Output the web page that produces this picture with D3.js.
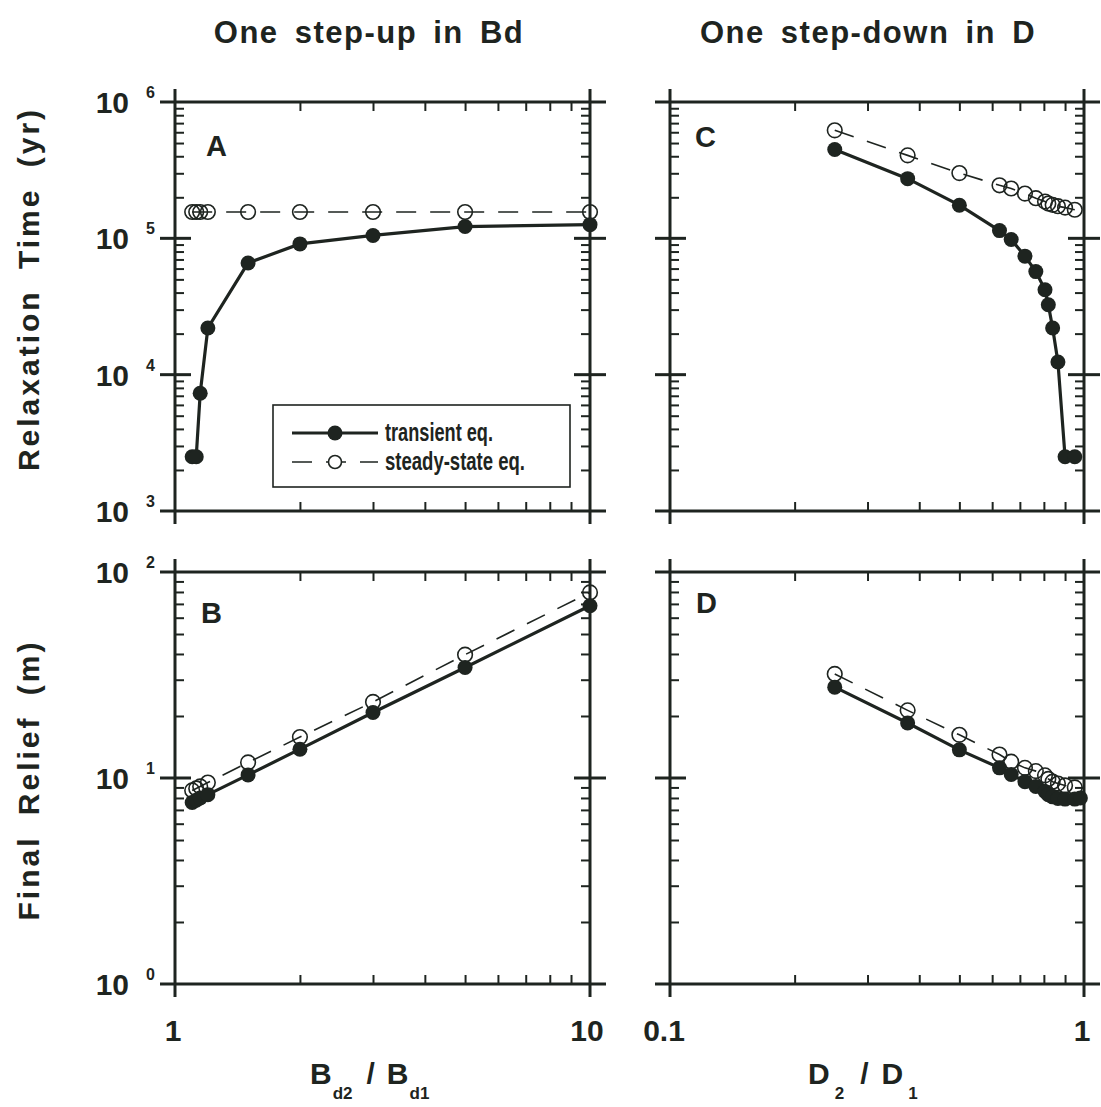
<!DOCTYPE html>
<html>
<head>
<meta charset="utf-8">
<script src="https://cdn.jsdelivr.net/npm/d3@7"></script>
<style>
  html, body { margin: 0; padding: 0; background: #ffffff; }
  svg text { font-family: "Liberation Sans", Arial, Helvetica, sans-serif; font-weight: bold; fill: #1e2420; }
</style>
</head>
<body>
<svg id="fig" width="1101" height="1107"></svg>
<script>
// ---- data ---------------------------------------------------------------
// Step-up in Bd: ratio Bd2/Bd1
const bdRatio = [1.1, 1.125, 1.15, 1.2, 1.5, 2, 3, 5, 10];
const tauTransientBd = [2500, 2500, 7300, 22000, 66000, 91000, 105000, 122000, 126000];
const tauSteadyBd = [156000, 156000, 156000, 156000, 156000, 156000, 156000, 156000, 156000];
const reliefTransientBd = [7.6, 7.8, 8.0, 8.3, 10.35, 13.8, 20.8, 34.4, 68.6];
const reliefSteadyBd = [8.7, 8.9, 9.1, 9.5, 11.9, 15.8, 23.4, 39.7, 79.6];

// Step-down in D: ratio D2/D1
const dRatio = [0.25, 0.375, 0.5, 0.625, 0.667, 0.72, 0.765, 0.805, 0.82, 0.84, 0.865, 0.9, 0.95];
const tauTransientD = [448000, 274000, 175000, 114000, 98000, 74000, 57000, 42000, 32600, 22000, 12400, 2500, 2500];
const tauSteadyD = [620000, 406000, 301000, 245000, 232000, 213000, 197000, 186000, 180000, 176000, 172000, 168000, 162000];
const dRatioRelief = [0.25, 0.375, 0.5, 0.625, 0.667, 0.72, 0.765, 0.805, 0.82, 0.84, 0.865, 0.9, 0.95, 0.98];
const reliefTransientD = [27.6, 18.5, 13.7, 11.2, 10.4, 9.6, 9.1, 8.6, 8.3, 8.1, 7.95, 7.9, 7.9, 8.0];
const reliefSteadyD = [32.0, 21.3, 16.2, 13.0, 12.0, 11.2, 10.8, 10.3, 9.9, 9.6, 9.4, 9.2, 9.0];

// axis labelling
const tauExponents = [3, 4, 5, 6];
const reliefExponents = [0, 1, 2];
const bdTickLabels = ["1", "10"];
const dTickLabels = ["0.1", "1"];
const panelLetters = ["A", "B", "C", "D"];
const columnTitles = ["One step-up in Bd", "One step-down in D"];
const legendLabels = ["transient eq.", "steady-state eq."];

// ---- drawing ------------------------------------------------------------
const ink = "#1e2420";
const svg = d3.select("#fig");

function zip(xs, ys) { return ys.map((v, i) => [xs[i], v]); }

function minorTicks(domain) {
  const lo = Math.round(Math.log10(domain[0])), hi = Math.round(Math.log10(domain[1]));
  const out = [];
  for (let e = lo; e < hi; e++) for (let m = 2; m <= 9; m++) out.push(m * Math.pow(10, e));
  return out;
}
function decades(domain) {
  const lo = Math.round(Math.log10(domain[0])), hi = Math.round(Math.log10(domain[1]));
  return d3.range(lo, hi + 1).map(e => Math.pow(10, e));
}

function drawPanel(cfg) {
  const g = svg.append("g");
  const x = d3.scaleLog().domain(cfg.xDomain).range([cfg.x0, cfg.x1]);
  const y = d3.scaleLog().domain(cfg.yDomain).range([cfg.yBot, cfg.yTop]);

  const tickStyle = sel => {
    sel.select(".domain").remove();
    sel.selectAll("line").attr("stroke", ink).attr("stroke-width", 2);
  };
  const mY = minorTicks(cfg.yDomain), mX = minorTicks(cfg.xDomain);
  g.append("g").attr("transform", `translate(${cfg.x0},0)`)
    .call(d3.axisRight(y).tickValues(mY).tickSize(9).tickFormat("")).call(tickStyle);
  g.append("g").attr("transform", `translate(${cfg.x1},0)`)
    .call(d3.axisLeft(y).tickValues(mY).tickSize(9).tickFormat("")).call(tickStyle);
  g.append("g").attr("transform", `translate(0,${cfg.yTop})`)
    .call(d3.axisBottom(x).tickValues(mX).tickSize(9).tickFormat("")).call(tickStyle);
  g.append("g").attr("transform", `translate(0,${cfg.yBot})`)
    .call(d3.axisTop(x).tickValues(mX).tickSize(9).tickFormat("")).call(tickStyle);

  // decade lines: full frame edges at the ends, crossing ticks inside
  const dec = decades(cfg.yDomain);
  dec.forEach((v, i) => {
    const yy = y(v);
    if (i === 0 || i === dec.length - 1) {
      g.append("line").attr("x1", cfg.x0 - 15).attr("x2", cfg.x1 + 16)
        .attr("y1", yy).attr("y2", yy).attr("stroke", ink).attr("stroke-width", 3);
    } else {
      [[cfg.x0 - 15, cfg.x0 + 16], [cfg.x1 - 16, cfg.x1 + 16]].forEach(([a, b]) =>
        g.append("line").attr("x1", a).attr("x2", b).attr("y1", yy).attr("y2", yy)
          .attr("stroke", ink).attr("stroke-width", 3));
    }
  });
  [cfg.x0, cfg.x1].forEach(xx =>
    g.append("line").attr("x1", xx).attr("x2", xx)
      .attr("y1", cfg.yTop - 13).attr("y2", cfg.yBot + 13)
      .attr("stroke", ink).attr("stroke-width", 3));

  // series
  const line = d3.line().x(d => x(d[0])).y(d => y(d[1]));
  const steady = zip(cfg.xSteady, cfg.steady);
  const trans = zip(cfg.xTrans, cfg.trans);
  g.append("path").attr("d", line(steady)).attr("fill", "none")
    .attr("stroke", ink).attr("stroke-width", 1.6).attr("stroke-dasharray", "20,14");
  g.selectAll(null).data(steady).join("circle")
    .attr("cx", d => x(d[0])).attr("cy", d => y(d[1])).attr("r", 7.3)
    .attr("fill", "none").attr("stroke", ink).attr("stroke-width", 1.6);
  g.append("path").attr("d", line(trans)).attr("fill", "none")
    .attr("stroke", ink).attr("stroke-width", 3.2);
  g.selectAll(null).data(trans).join("circle")
    .attr("cx", d => x(d[0])).attr("cy", d => y(d[1])).attr("r", 7.5)
    .attr("fill", ink);

  g.append("text").attr("x", cfg.letterPos[0]).attr("y", cfg.letterPos[1])
    .attr("font-size", 29).text(cfg.letter);

  // y tick labels (powers of ten)
  if (cfg.yExps) {
    cfg.yExps.forEach(e => {
      const yy = y(Math.pow(10, e));
      g.append("text").attr("x", 129).attr("y", yy + 11).attr("text-anchor", "end")
        .attr("font-size", 30).text("10");
      g.append("text").attr("x", 146).attr("y", yy - 4).attr("font-size", 16).text(String(e));
    });
  }
  if (cfg.xLabels) {
    cfg.xDomain.forEach((v, i) => {
      g.append("text").attr("x", x(v) + (cfg.xLabelShift ? cfg.xLabelShift[i] : 0))
        .attr("y", 1041).attr("text-anchor", "middle").attr("font-size", 30)
        .text(cfg.xLabels[i]);
    });
  }
  return { x, y };
}

const topRow = { yTop: 102, yBot: 511, yDomain: [1e3, 1e6] };
const botRow = { yTop: 572, yBot: 984, yDomain: [1, 100] };
const leftCol = { x0: 175, x1: 590, xDomain: [1, 10] };
const rightCol = { x0: 670, x1: 1084, xDomain: [0.1, 1] };

drawPanel({ ...topRow, ...leftCol, xSteady: bdRatio, steady: tauSteadyBd,
  xTrans: bdRatio, trans: tauTransientBd, letter: panelLetters[0], letterPos: [206, 156],
  yExps: tauExponents });
drawPanel({ ...botRow, ...leftCol, xSteady: bdRatio, steady: reliefSteadyBd,
  xTrans: bdRatio, trans: reliefTransientBd, letter: panelLetters[1], letterPos: [201, 623],
  yExps: reliefExponents, xLabels: bdTickLabels, xLabelShift: [-2, -3] });
drawPanel({ ...topRow, ...rightCol, xSteady: dRatio, steady: tauSteadyD,
  xTrans: dRatio, trans: tauTransientD, letter: panelLetters[2], letterPos: [695, 147] });
drawPanel({ ...botRow, ...rightCol, xSteady: dRatio, steady: reliefSteadyD,
  xTrans: dRatioRelief, trans: reliefTransientD, letter: panelLetters[3], letterPos: [696, 613],
  xLabels: dTickLabels, xLabelShift: [-6, -2] });

// column titles
[[369, columnTitles[0]], [868, columnTitles[1]]].forEach(([cx, t]) =>
  svg.append("text").attr("x", cx).attr("y", 43).attr("text-anchor", "middle")
    .attr("font-size", 31).attr("letter-spacing", 1.5).attr("word-spacing", 6).text(t));

// y axis titles
[[289, "Relaxation Time (yr)"], [780, "Final Relief (m)"]].forEach(([cy, t]) =>
  svg.append("text").attr("transform", `translate(39,${cy}) rotate(-90)`)
    .attr("text-anchor", "middle").attr("font-size", 30)
    .attr("letter-spacing", 3).attr("word-spacing", 9).text(t));

// x axis titles with subscripts
function ratioTitle(x0, parts) {
  const t = svg.append("text").attr("x", x0).attr("y", 1084).attr("font-size", 30);
  let shift = 0;
  parts.forEach(([s, sub, gap]) => {
    const target = sub ? 15 : 0;
    t.append("tspan").attr("dx", gap || 0).attr("dy", target - shift)
      .attr("font-size", sub ? 17 : 30).text(s);
    shift = target;
  });
}
ratioTitle(310, [["B"], ["d2", true, 1], ["/", false, 14], ["B", false, 12], ["d1", true, 1]]);
ratioTitle(808, [["D"], ["2", true, 5], ["/", false, 16], ["D", false, 13], ["1", true, 5]]);

// legend
const lg = svg.append("g");
lg.append("rect").attr("x", 273).attr("y", 405).attr("width", 297).attr("height", 82)
  .attr("fill", "#fff").attr("stroke", ink).attr("stroke-width", 1.6);
lg.append("line").attr("x1", 292).attr("x2", 378).attr("y1", 433).attr("y2", 433)
  .attr("stroke", ink).attr("stroke-width", 3.2);
lg.append("circle").attr("cx", 335).attr("cy", 433).attr("r", 7.5).attr("fill", ink);
lg.append("line").attr("x1", 292).attr("x2", 378).attr("y1", 462).attr("y2", 462)
  .attr("stroke", ink).attr("stroke-width", 1.6).attr("stroke-dasharray", "20,14");
lg.append("circle").attr("cx", 335).attr("cy", 462).attr("r", 6.5)
  .attr("fill", "#fff").attr("stroke", ink).attr("stroke-width", 1.6);
[[441, legendLabels[0], 108], [470, legendLabels[1], 140]].forEach(([yy, t, w]) =>
  lg.append("text").attr("x", 385).attr("y", yy).attr("font-size", 25)
    .attr("font-weight", "normal")
    .attr("textLength", w).attr("lengthAdjust", "spacingAndGlyphs").text(t));
</script>
</body>
</html>
